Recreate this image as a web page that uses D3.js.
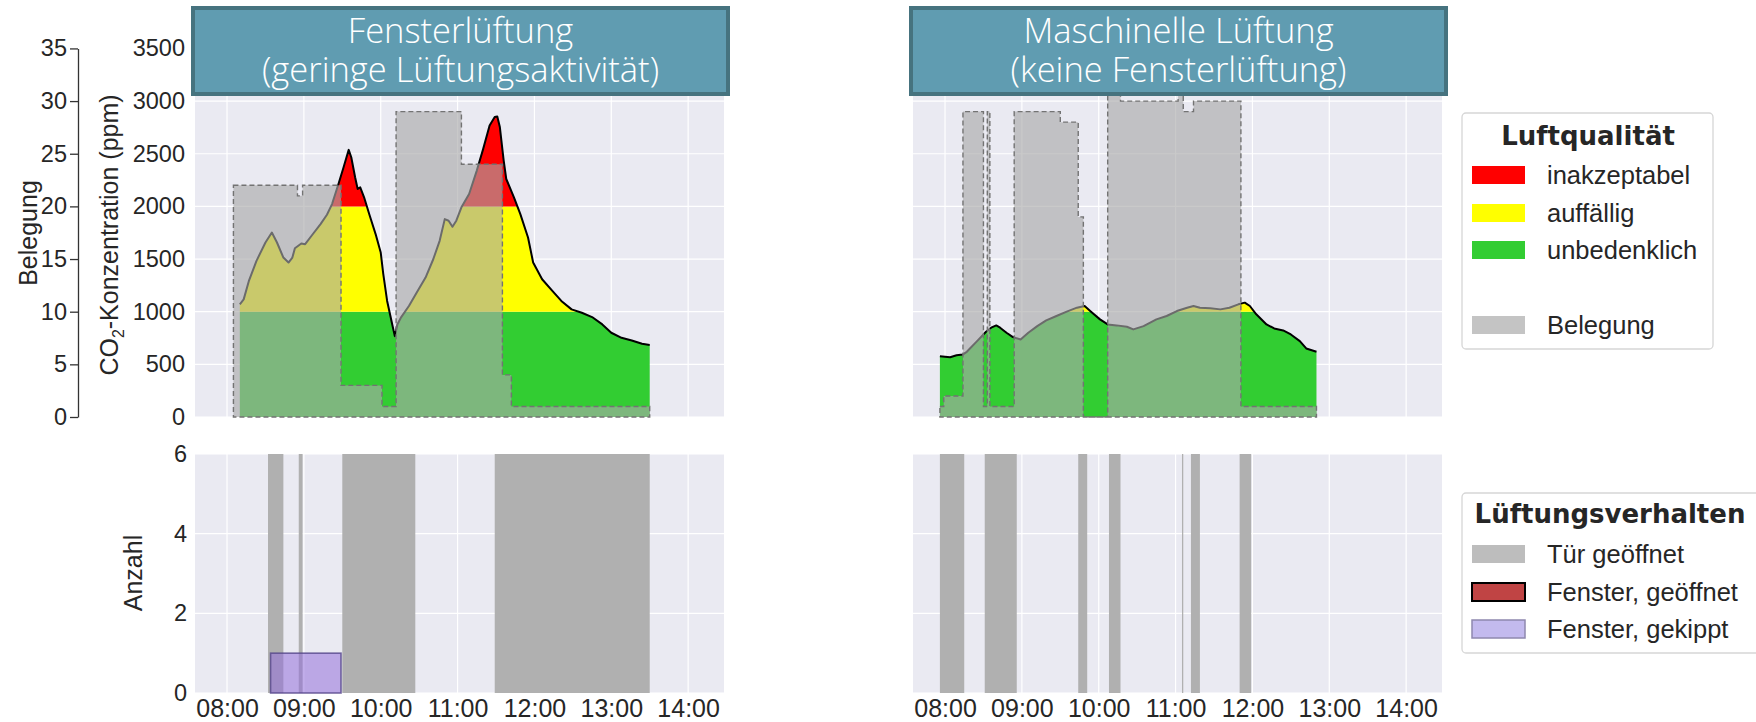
<!DOCTYPE html>
<html>
<head>
<meta charset="utf-8">
<script src="https://cdn.jsdelivr.net/npm/d3@7"></script>
<style>
  body { margin: 0; background: #ffffff; }
  svg { display: block; }
</style>
</head>
<body>
<svg id="chart" width="1756" height="722"></svg>
<script>
// ---- axis ticks and domains ----
const timeTicks = ["08:00", "09:00", "10:00", "11:00", "12:00", "13:00", "14:00"];
const timeDomain = ["07:35", "14:28"];
const ppmTicks = [0, 500, 1000, 1500, 2000, 2500, 3000, 3500];
const occupancyTicks = [0, 5, 10, 15, 20, 25, 30, 35];
const countTicks = [0, 2, 4, 6];
const qualityLimits = [1000, 2000];   // unbedenklich < 1000 <= auffällig < 2000 <= inakzeptabel

const panelTitles = [
  ["Fensterlüftung", "(geringe Lüftungsaktivität)"],
  ["Maschinelle Lüftung", "(keine Fensterlüftung)"]
];

// ---- classroom with window ventilation ----
const co2Fenster = [
  ["08:10", 1070], ["08:13", 1117], ["08:17", 1290], ["08:23", 1483], ["08:30", 1657],
  ["08:35", 1752], ["08:39", 1657], ["08:44", 1514], ["08:48", 1467], ["08:51", 1514],
  ["08:53", 1603], ["08:58", 1648], ["09:01", 1641], ["09:06", 1721], ["09:13", 1832],
  ["09:18", 1921], ["09:22", 2022], ["09:27", 2213], ["09:31", 2372], ["09:35", 2537],
  ["09:37", 2467], ["09:40", 2277], ["09:42", 2165], ["09:44", 2181], ["09:47", 2086],
  ["09:51", 1927], ["09:56", 1737], ["10:00", 1562], ["10:02", 1356], ["10:05", 1102],
  ["10:09", 879], ["10:11", 768], ["10:13", 879], ["10:16", 949], ["10:22", 1054],
  ["10:28", 1181], ["10:35", 1324], ["10:41", 1498], ["10:46", 1673], ["10:50", 1879],
  ["10:53", 1864], ["10:56", 1806], ["10:59", 1864], ["11:03", 1991], ["11:09", 2118],
  ["11:15", 2340], ["11:20", 2546], ["11:25", 2768], ["11:29", 2848], ["11:31", 2854],
  ["11:33", 2753], ["11:36", 2435], ["11:38", 2260], ["11:44", 2086], ["11:49", 1927],
  ["11:55", 1705], ["11:59", 1467], ["12:06", 1308], ["12:14", 1197], ["12:21", 1102],
  ["12:29", 1022], ["12:37", 990], ["12:45", 949], ["12:53", 879], ["13:00", 800],
  ["13:08", 752], ["13:16", 727], ["13:24", 695], ["13:30", 683]
];
// occupancy steps (value holds until the next entry)
const occFenster = [
  ["08:05", 22], ["08:55", 21], ["08:59", 22], ["09:29", 3], ["10:01", 1],
  ["10:12", 29], ["11:03", 24], ["11:35", 4], ["11:42", 1], ["13:30", 1]
];
const doorFenster = [["08:32", "08:44"], ["08:56", "08:59"], ["09:30", "10:27"], ["11:29", "13:30"]];
const tiltFenster = [["08:34", "09:29", 1]];
const openFenster = [];

// ---- classroom with mechanical ventilation ----
const co2Maschinell = [
  ["07:56", 578], ["08:04", 568], ["08:09", 587], ["08:14", 594], ["08:17", 619],
  ["08:25", 721], ["08:32", 810], ["08:36", 848], ["08:40", 870], ["08:43", 848],
  ["08:48", 800], ["08:53", 759], ["08:59", 736], ["09:05", 800], ["09:12", 863],
  ["09:19", 917], ["09:27", 959], ["09:35", 1000], ["09:43", 1038], ["09:49", 1054],
  ["09:54", 1000], ["10:01", 927], ["10:07", 879], ["10:14", 870], ["10:22", 857],
  ["10:27", 832], ["10:35", 863], ["10:45", 927], ["10:53", 959], ["11:01", 1006],
  ["11:09", 1038], ["11:14", 1054], ["11:19", 1038], ["11:27", 1032], ["11:35", 1022],
  ["11:42", 1038], ["11:49", 1070], ["11:54", 1086], ["11:58", 1054], ["12:03", 975],
  ["12:11", 879], ["12:17", 841], ["12:24", 822], ["12:30", 784], ["12:37", 721],
  ["12:42", 651], ["12:50", 619]
];
const occMaschinell = [
  ["07:56", 1], ["07:59", 2], ["08:14", 29], ["08:30", 1], ["08:33", 29], ["08:35", 1],
  ["08:54", 29], ["09:30", 28], ["09:44", 19], ["09:48", 0], ["10:07", 31], ["10:17", 30],
  ["11:02", 31], ["11:06", 29], ["11:14", 30], ["11:51", 1], ["12:50", 1]
];
const doorMaschinell = [
  ["07:56", "08:15"], ["08:31", "08:56"], ["09:44", "09:51"], ["10:08", "10:17"],
  ["11:05", "11:06"], ["11:12", "11:19"], ["11:50", "11:59"]
];
const tiltMaschinell = [];
const openMaschinell = [];

// ---- legend texts ----
const qualityLegend = ["inakzeptabel", "auffällig", "unbedenklich", "", "Belegung"];
const behaviourLegend = ["Tür geöffnet", "Fenster, geöffnet", "Fenster, gekippt"];

// ---- styling ----
const C = {
  bg: "#eaeaf2", grid: "#ffffff", text: "#262626",
  red: "#ff0000", yellow: "#ffff00", green: "#32cd32",
  occ: "#a9a9a9", occAlpha: 0.63, occLine: "#737373",
  door: "#b0b0b0", doorLegend: "#bdbdbd",
  openFill: "#c04444", tiltFill: "#9370db", tiltAlpha: 0.55, tiltEdge: "#55468a",
  titleFill: "#609cb1", titleEdge: "#46737f"
};

const svg = d3.select("#chart");
const parse = d3.timeParse("%H:%M");
const W = 529;
const topY0 = 40, topY1 = 417, botY0 = 454, botY1 = 693;
const panelX = [195, 913];

const x = d3.scaleTime().domain(timeDomain.map(parse)).range([0, W]);
const yPpm = d3.scaleLinear().domain([0, 3580]).range([topY1, topY0]);
const yOcc = d3.scaleLinear().domain([0, 35.8]).range([topY1, topY0]);
const yCount = d3.scaleLinear().domain([0, 6]).range([botY1, botY0]);

const rows = arr => arr.map(([t, v]) => ({ t: parse(t), v }));
const intFmt = d3.format("d");

const panels = [
  { co2: co2Fenster, occ: occFenster, door: doorFenster, tilt: tiltFenster, open: openFenster },
  { co2: co2Maschinell, occ: occMaschinell, door: doorMaschinell, tilt: tiltMaschinell, open: openMaschinell }
];

const defs = svg.append("defs");

panels.forEach((p, i) => {
  const g = svg.append("g").attr("transform", `translate(${panelX[i]},0)`);
  const co2 = rows(p.co2);
  const occ = rows(p.occ);

  // ===== upper plot: CO2 and occupancy =====
  g.append("rect").attr("x", 0).attr("y", topY0).attr("width", W).attr("height", topY1 - topY0)
    .attr("fill", C.bg);
  const gridTop = g.append("g");
  gridTop.selectAll("line.h").data(ppmTicks).join("line")
    .attr("x1", 0).attr("x2", W).attr("y1", d => yPpm(d)).attr("y2", d => yPpm(d))
    .attr("stroke", C.grid).attr("stroke-width", 1.2);
  gridTop.selectAll("line.v").data(timeTicks).join("line")
    .attr("x1", d => x(parse(d))).attr("x2", d => x(parse(d)))
    .attr("y1", topY0).attr("y2", topY1)
    .attr("stroke", C.grid).attr("stroke-width", 1.2);

  // clip bands for the three air quality classes
  const bands = [
    { id: `band-green-${i}`, lo: 0, hi: qualityLimits[0], color: C.green },
    { id: `band-yellow-${i}`, lo: qualityLimits[0], hi: qualityLimits[1], color: C.yellow },
    { id: `band-red-${i}`, lo: qualityLimits[1], hi: 3580, color: C.red }
  ];
  bands.forEach(b => {
    defs.append("clipPath").attr("id", b.id).append("rect")
      .attr("x", 0).attr("width", W)
      .attr("y", yPpm(b.hi)).attr("height", yPpm(b.lo) - yPpm(b.hi));
  });

  const co2Area = d3.area().x(d => x(d.t)).y0(yPpm(0)).y1(d => yPpm(d.v));
  bands.forEach(b => {
    g.append("path").datum(co2).attr("d", co2Area)
      .attr("fill", b.color).attr("clip-path", `url(#${b.id})`);
  });
  g.append("path").datum(co2)
    .attr("d", d3.line().x(d => x(d.t)).y(d => yPpm(d.v)))
    .attr("fill", "none").attr("stroke", "#000").attr("stroke-width", 2)
    .attr("stroke-linejoin", "round");

  const occArea = d3.area().curve(d3.curveStepAfter)
    .x(d => x(d.t)).y0(yOcc(0)).y1(d => yOcc(d.v));
  g.append("path").datum(occ).attr("d", occArea)
    .attr("fill", C.occ).attr("fill-opacity", C.occAlpha);
  g.append("path").datum(occ).attr("d", occArea)
    .attr("fill", "none").attr("stroke", C.occLine).attr("stroke-width", 1.4)
    .attr("stroke-dasharray", "5,3");

  // ===== lower plot: ventilation behaviour =====
  g.append("rect").attr("x", 0).attr("y", botY0).attr("width", W).attr("height", botY1 - botY0)
    .attr("fill", C.bg);
  const gridBot = g.append("g");
  gridBot.selectAll("line.h").data(countTicks).join("line")
    .attr("x1", 0).attr("x2", W).attr("y1", d => yCount(d)).attr("y2", d => yCount(d))
    .attr("stroke", C.grid).attr("stroke-width", 1.2);
  gridBot.selectAll("line.v").data(timeTicks).join("line")
    .attr("x1", d => x(parse(d))).attr("x2", d => x(parse(d)))
    .attr("y1", botY0).attr("y2", botY1)
    .attr("stroke", C.grid).attr("stroke-width", 1.2);

  g.append("g").selectAll("rect").data(p.door).join("rect")
    .attr("x", d => x(parse(d[0])))
    .attr("width", d => Math.max(1, x(parse(d[1])) - x(parse(d[0]))))
    .attr("y", yCount(6)).attr("height", yCount(0) - yCount(6))
    .attr("fill", C.door);
  g.append("g").selectAll("rect").data(p.open).join("rect")
    .attr("x", d => x(parse(d[0])))
    .attr("width", d => x(parse(d[1])) - x(parse(d[0])))
    .attr("y", d => yCount(d[2])).attr("height", d => yCount(0) - yCount(d[2]))
    .attr("fill", C.openFill).attr("stroke", "#000").attr("stroke-width", 1.5);
  g.append("g").selectAll("rect").data(p.tilt).join("rect")
    .attr("x", d => x(parse(d[0])))
    .attr("width", d => x(parse(d[1])) - x(parse(d[0])))
    .attr("y", d => yCount(d[2])).attr("height", d => yCount(0) - yCount(d[2]))
    .attr("fill", C.tiltFill).attr("fill-opacity", C.tiltAlpha)
    .attr("stroke", C.tiltEdge).attr("stroke-opacity", 0.8).attr("stroke-width", 1.6);

  // time axis
  const xAxis = g.append("g").attr("transform", `translate(0,${botY1})`)
    .call(d3.axisBottom(x).tickValues(timeTicks.map(parse))
      .tickFormat(d3.timeFormat("%H:%M")).tickSize(0).tickPadding(6));
  xAxis.select(".domain").remove();
  xAxis.selectAll("text").attr("fill", C.text)
    .style("font-family", "'Liberation Sans', Arial, sans-serif").style("font-size", "25px");

  // ===== panel title =====
  g.append("rect").attr("x", -2).attr("y", 8).attr("width", 535).attr("height", 86)
    .attr("fill", C.titleFill).attr("stroke", C.titleEdge).attr("stroke-width", 4);
  const title = g.append("text").attr("x", W / 2 + 1).attr("text-anchor", "middle")
    .attr("fill", "#ffffff")
    .style("font-family", "'Open Sans', Lato, sans-serif").style("font-weight", 300)
    .style("font-size", "34.5px");
  title.append("tspan").attr("x", W / 2 + 1).attr("y", 43).text(panelTitles[i][0]);
  title.append("tspan").attr("x", W / 2 + 1).attr("y", 82).text(panelTitles[i][1]);
});

// ===== left axes =====
const tickFont = sel => sel.selectAll("text").attr("fill", C.text)
  .style("font-family", "'Liberation Sans', Arial, sans-serif").style("font-size", "23.5px");

const ppmAxis = svg.append("g").attr("transform", `translate(${panelX[0]},0)`)
  .call(d3.axisLeft(yPpm).tickValues(ppmTicks).tickFormat(intFmt).tickSize(0).tickPadding(10));
ppmAxis.select(".domain").remove();
tickFont(ppmAxis);

const occAxisScale = yOcc.copy().domain([0, 35]).range([yOcc(0), yOcc(35)]);
const occAxis = svg.append("g").attr("transform", "translate(78,0)")
  .call(d3.axisLeft(occAxisScale).tickValues(occupancyTicks).tickFormat(intFmt)
    .tickSize(8).tickSizeOuter(0).tickPadding(3));
occAxis.select(".domain").attr("stroke", "#333").attr("stroke-width", 1.3);
occAxis.selectAll("line").attr("stroke", "#333").attr("stroke-width", 1.3);
tickFont(occAxis);

const countAxis = svg.append("g").attr("transform", `translate(${panelX[0]},0)`)
  .call(d3.axisLeft(yCount).tickValues(countTicks).tickFormat(intFmt).tickSize(0).tickPadding(8));
countAxis.select(".domain").remove();
tickFont(countAxis);

const labelFont = sel => sel.attr("fill", C.text).attr("text-anchor", "middle")
  .style("font-family", "'Liberation Sans', Arial, sans-serif").style("font-size", "25px");

svg.append("text").attr("transform", "translate(37,233) rotate(-90)").text("Belegung").call(labelFont);
const co2Label = svg.append("text").attr("transform", "translate(118,235) rotate(-90)").call(labelFont);
co2Label.append("tspan").text("CO");
co2Label.append("tspan").attr("dy", 6).style("font-size", "16px").text("2");
co2Label.append("tspan").attr("dy", -6).text("-Konzentration (ppm)");
svg.append("text").attr("transform", "translate(142,573) rotate(-90)").text("Anzahl").call(labelFont);

// ===== legends =====
const legendText = sel => sel.attr("fill", C.text)
  .style("font-family", "'Liberation Sans', Arial, sans-serif").style("font-size", "25.5px");
const legendTitle = sel => sel.attr("fill", C.text).attr("text-anchor", "middle")
  .style("font-family", "'DejaVu Sans', sans-serif").style("font-weight", "bold").style("font-size", "26px");

// air quality
const lq = svg.append("g");
lq.append("rect").attr("x", 1462).attr("y", 113).attr("width", 251).attr("height", 236)
  .attr("rx", 4).attr("fill", "#fff").attr("stroke", "#d6d6d6").attr("stroke-width", 1.3);
lq.append("text").attr("x", 1588).attr("y", 145).text("Luftqualität").call(legendTitle);
const lqColors = [C.red, C.yellow, C.green, null, "#c4c4c4"];
const lqRows = [175, 213, 250, 288, 325];
qualityLegend.forEach((label, k) => {
  if (!label) return;
  lq.append("rect").attr("x", 1472).attr("y", lqRows[k] - 9).attr("width", 53).attr("height", 18)
    .attr("fill", lqColors[k]);
  lq.append("text").attr("x", 1547).attr("y", lqRows[k] + 9).text(label).call(legendText);
});

// ventilation behaviour
const lv = svg.append("g");
lv.append("rect").attr("x", 1462).attr("y", 493).attr("width", 300).attr("height", 160)
  .attr("rx", 4).attr("fill", "#fff").attr("stroke", "#d6d6d6").attr("stroke-width", 1.3);
lv.append("text").attr("x", 1610).attr("y", 523).text("Lüftungsverhalten").call(legendTitle);
const lvRows = [554, 592, 629];
const lvStyles = [
  { fill: C.doorLegend, stroke: "none", sw: 0 },
  { fill: C.openFill, stroke: "#000", sw: 2 },
  { fill: "#c3baee", stroke: "#8f88ae", sw: 1.5 }
];
behaviourLegend.forEach((label, k) => {
  lv.append("rect").attr("x", 1472).attr("y", lvRows[k] - 9).attr("width", 53).attr("height", 18)
    .attr("fill", lvStyles[k].fill).attr("stroke", lvStyles[k].stroke).attr("stroke-width", lvStyles[k].sw);
  lv.append("text").attr("x", 1547).attr("y", lvRows[k] + 9).text(label).call(legendText);
});
</script>
</body>
</html>
